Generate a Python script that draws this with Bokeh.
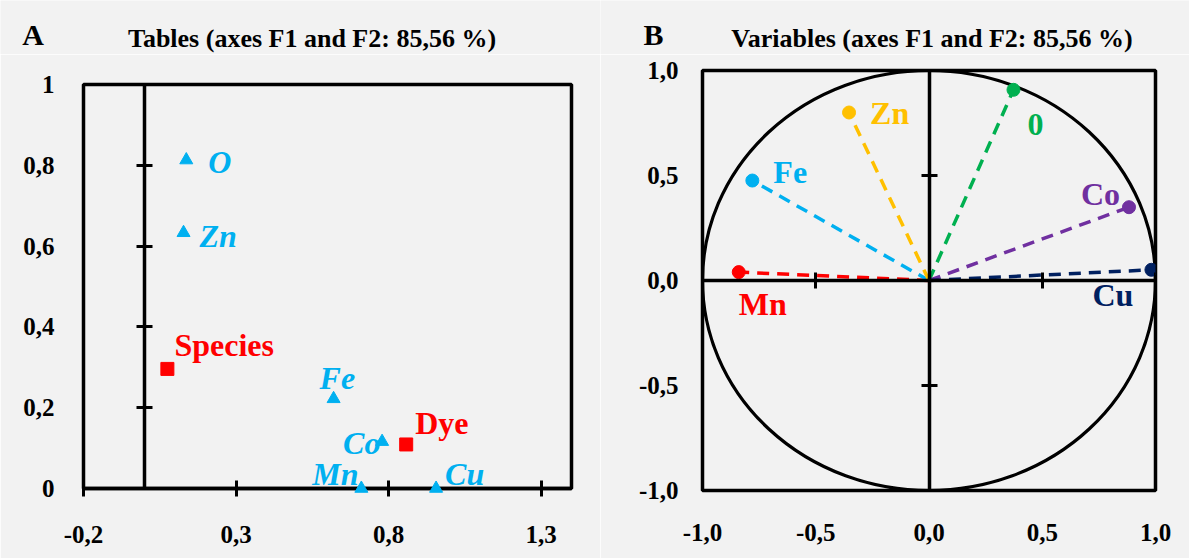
from bokeh.plotting import figure
from bokeh.models import LinearAxis, FixedTicker, Label, ColumnDataSource, Range1d
from bokeh.layouts import row, column
from bokeh.embed import file_html
from bokeh.resources import INLINE
from bokeh.core.properties import value

FONT = "Liberation Serif"
BG = "#f2f2f2"

# ---------------- Panel A data (tables) ----------------
elem_names = ["O", "Zn", "Fe", "Co", "Mn", "Cu"]
elem_f1 = [0.137, 0.128, 0.620, 0.779, 0.711, 0.956]
elem_f2 = [0.813, 0.633, 0.222, 0.116, 0.0, 0.0]
elem_dx = [22, 16, -14, -39, -49, 9]
elem_dy = [2, 3, -21, 1, -15, -15]

factor_names = ["Species", "Dye"]
factor_f1 = [0.075, 0.858]
factor_f2 = [0.296, 0.109]
factor_dx = [7, 9]
factor_dy = [-24, -21]

a_xticks = [-0.2, 0.3, 0.8, 1.3]
a_xtick_labels = ["-0,2", "0,3", "0,8", "1,3"]
a_yticks = [0, 0.2, 0.4, 0.6, 0.8, 1]
a_ytick_labels = ["0", "0,2", "0,4", "0,6", "0,8", "1"]

# ---------------- Panel B data (variables) ----------------
var_names = ["Mn", "Fe", "Zn", "0", "Co", "Cu"]
var_f1 = [-0.840, -0.780, -0.353, 0.373, 0.883, 0.982]
var_f2 = [0.040, 0.476, 0.800, 0.908, 0.349, 0.051]
var_colors = ["#ff0000", "#00b0f0", "#ffc000", "#00b050", "#7030a0", "#002060"]
var_dx = [0, 21, 21, 14, -48, -59]
var_dy = [32, -9, 0, 35, -13, 25]

b_ticks = [-1, -0.5, 0, 0.5, 1]
b_tick_labels = ["-1,0", "-0,5", "0,0", "0,5", "1,0"]

title_a = "Tables (axes F1 and F2: 85,56 %)"
title_b = "Variables (axes F1 and F2: 85,56 %)"

BLUE = "#00b0f0"
RED = "#ff0000"
TICK_FONT = "25px"
POINT_FONT = "32px"


def style_label_axis(ax, ticks, labels, standoff):
    ax.ticker = FixedTicker(ticks=ticks)
    ax.major_label_overrides = {t: l for t, l in zip(ticks, labels)}
    ax.axis_line_color = None
    ax.major_tick_line_color = None
    ax.minor_tick_line_color = None
    ax.major_label_standoff = standoff
    ax.major_label_text_font = FONT
    ax.major_label_text_font_style = "bold"
    ax.major_label_text_font_size = TICK_FONT
    ax.major_label_text_color = "black"


def style_cross_axis(ax, ticks):
    ax.ticker = FixedTicker(ticks=ticks)
    ax.major_label_overrides = {t: "" for t in ticks}
    ax.major_label_standoff = 0
    ax.major_label_text_font_size = "1px"
    ax.axis_line_color = "black"
    ax.axis_line_width = 3.5
    ax.major_tick_line_color = "black"
    ax.major_tick_line_width = 3
    ax.major_tick_in = 8
    ax.major_tick_out = 8
    ax.minor_tick_line_color = None


def header(width, height):
    h = figure(width=width, height=height, x_range=Range1d(0, width), y_range=Range1d(0, height),
               output_backend="svg", toolbar_location=None,
               x_axis_location=None, y_axis_location=None, min_border=0,
               background_fill_color=BG, border_fill_color=BG, outline_line_color=None)
    h.grid.visible = False
    return h


def text_label(x, y, text, size, align):
    return Label(x=x, y=y, text=text, text_align=align, text_baseline="middle",
                 text_font=FONT, text_font_style="bold", text_font_size=size,
                 text_color="black")


HEAD = 54
W_A = 600
W_B = 589
H_MAIN = 558 - HEAD

# ================= headers =================
ha = header(W_A, HEAD)
ha.add_layout(text_label(311.5, 16, title_a, "26px", "center"))
ha.add_layout(text_label(21.7, 20.3, "A", "30px", "left"))

hb = header(W_B, HEAD)
hb.add_layout(text_label(331.5, 16, title_b, "26px", "center"))
hb.add_layout(text_label(43, 20.5, "B", "30px", "left"))

# ================= Panel A =================
pa = figure(width=W_A, height=H_MAIN, x_range=Range1d(-0.2, 1.4), y_range=Range1d(0, 1),
            output_backend="svg", toolbar_location=None,
            x_axis_location=None, y_axis_location=None,
            min_border_left=83, min_border_right=29, min_border_top=84 - HEAD, min_border_bottom=70,
            background_fill_color=BG, border_fill_color=BG,
            outline_line_color="black", outline_line_width=3.5)
pa.grid.visible = False

ax_bottom = LinearAxis()
style_label_axis(ax_bottom, a_xticks, a_xtick_labels, 29)
ax_bottom.axis_line_color = "black"
ax_bottom.axis_line_width = 3.5
ax_bottom.major_tick_line_color = "black"
ax_bottom.major_tick_line_width = 3
ax_bottom.major_tick_in = 8
ax_bottom.major_tick_out = 8
pa.add_layout(ax_bottom, "below")

ay_cross = LinearAxis(fixed_location=0)
style_cross_axis(ay_cross, a_yticks)
pa.add_layout(ay_cross, "left")

ay_lab = LinearAxis()
style_label_axis(ay_lab, a_yticks, a_ytick_labels, 23)
pa.add_layout(ay_lab, "left")

src_e = ColumnDataSource(dict(x=elem_f1, y=elem_f2, name=elem_names, dx=elem_dx, dy=elem_dy))
src_f = ColumnDataSource(dict(x=factor_f1, y=factor_f2, name=factor_names, dx=factor_dx, dy=factor_dy))

pa.scatter("x", "y", source=src_e, marker="triangle", size=13, color=BLUE, level="overlay")
pa.scatter("x", "y", source=src_f, marker="square", size=13, color=RED)
pa.text("x", "y", text="name", source=src_e, x_offset="dx", y_offset="dy",
        text_font=value(FONT), text_font_style="bold italic", text_font_size=POINT_FONT,
        text_color=BLUE, text_align="left", text_baseline="middle")
pa.text("x", "y", text="name", source=src_f, x_offset="dx", y_offset="dy",
        text_font=value(FONT), text_font_style="bold", text_font_size=POINT_FONT,
        text_color=RED, text_align="left", text_baseline="middle")

# ================= Panel B =================
pb = figure(width=W_B, height=H_MAIN, x_range=Range1d(-1, 1), y_range=Range1d(-1, 1),
            output_backend="svg", toolbar_location=None,
            x_axis_location=None, y_axis_location=None,
            min_border_left=102, min_border_right=34, min_border_top=70 - HEAD, min_border_bottom=68,
            background_fill_color=BG, border_fill_color=BG,
            outline_line_color="black", outline_line_width=3.5)
pb.grid.visible = False

bx_cross = LinearAxis(fixed_location=0)
style_cross_axis(bx_cross, b_ticks)
pb.add_layout(bx_cross, "below")
bx_lab = LinearAxis()
style_label_axis(bx_lab, b_ticks, b_tick_labels, 27)
pb.add_layout(bx_lab, "below")

by_cross = LinearAxis(fixed_location=0)
style_cross_axis(by_cross, b_ticks)
pb.add_layout(by_cross, "left")
by_lab = LinearAxis()
style_label_axis(by_lab, b_ticks, b_tick_labels, 18)
pb.add_layout(by_lab, "left")

# correlation circle (unit circle in data space)
pb.ellipse(x=0, y=0, width=2, height=2, fill_color=None, line_color="black", line_width=3.2)

src_v = ColumnDataSource(dict(x=var_f1, y=var_f2, x0=[0] * len(var_f1), y0=[0] * len(var_f2),
                              name=var_names, color=var_colors, dx=var_dx, dy=var_dy))
pb.segment(x0="x0", y0="y0", x1="x", y1="y", source=src_v, line_color="color",
           line_width=3.5, line_dash="12 8")
pb.scatter("x", "y", source=src_v, marker="circle", size=13, color="color")
pb.text("x", "y", text="name", source=src_v, x_offset="dx", y_offset="dy",
        text_font=value(FONT), text_font_style="bold", text_font_size=POINT_FONT,
        text_color="color", text_align="left", text_baseline="middle")

layout = column(row(ha, hb), row(column(pa), column(pb)))
open("out.html", "w").write(file_html(layout, INLINE))
